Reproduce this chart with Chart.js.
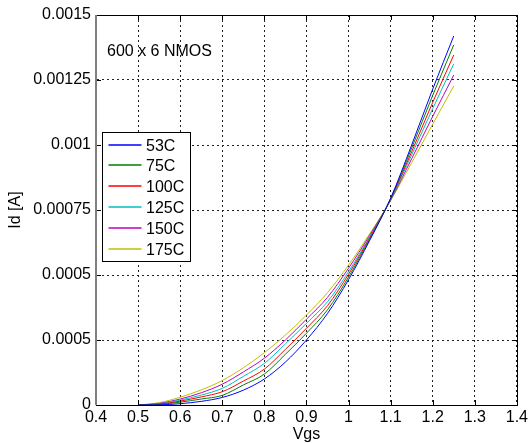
<!DOCTYPE html>
<html><head><meta charset="utf-8">
<script src="https://cdn.jsdelivr.net/npm/chart.js@4/dist/chart.umd.min.js"></script>
<style>html,body{margin:0;padding:0;background:#fff}#wrap{width:531px;height:443px}</style>
</head><body><div id="wrap"><canvas id="c" width="531" height="443"></canvas></div>
<script>
const vgs = [0.50,0.55,0.60,0.65,0.70,0.75,0.80,0.85,0.90,0.95,1.00,1.05,1.10,1.15,1.20,1.25];
const id53C  = [0,0.0000005,0.000005,0.000014,0.000029,0.000057,0.000100,0.000165,0.000250,0.000352,0.000482,0.000632,0.000795,0.001000,0.001215,0.001419];
const id75C  = [0,0.000002,0.000011,0.000023,0.000037,0.000077,0.000119,0.000195,0.000276,0.000366,0.000492,0.000637,0.000793,0.000988,0.001191,0.001385];
const id100C = [0,0.000003,0.000015,0.000031,0.000051,0.000092,0.000138,0.000214,0.000295,0.000382,0.000503,0.000642,0.000792,0.000974,0.001164,0.001346];
const id125C = [0,0.000004,0.000019,0.000038,0.000064,0.000110,0.000160,0.000235,0.000314,0.000397,0.000513,0.000646,0.000790,0.000962,0.001140,0.001312];
const id150C = [0,0.000006,0.000023,0.000047,0.000080,0.000127,0.000180,0.000250,0.000330,0.000414,0.000526,0.000652,0.000788,0.000947,0.001110,0.001269];
const id175C = [0,0.000009,0.000030,0.000058,0.000094,0.000143,0.000201,0.000269,0.000346,0.000432,0.000538,0.000658,0.000786,0.000932,0.001080,0.001227];
const seriesLabels = ['53C','75C','100C','125C','150C','175C'];
const seriesColors = ['#0000ff','#008000','#ff0000','#00bfbf','#bf00bf','#bfbf00'];
const seriesData = [id53C,id75C,id100C,id125C,id150C,id175C];
const xTickLabels = ['0.4','0.5','0.6','0.7','0.8','0.9','1','1.1','1.2','1.3','1.4'];
const yTickLabels = ['0','0.0005','0.0005','0.00075','0.001','0.00125','0.0015'];
const annotationText = '600 x 6 NMOS';
const FONT = '"Liberation Sans", Arial, sans-serif';

const datasets = seriesData.map((arr,i)=>({
  label: seriesLabels[i],
  data: vgs.map((x,j)=>({x:x,y:arr[j]})),
  borderColor: seriesColors[i],
  backgroundColor: seriesColors[i],
  borderWidth: 1,
  pointRadius: 0,
  fill: false,
  cubicInterpolationMode: 'monotone'
}));

const decorPlugin = {
  id:'decor',
  afterDraw(chart){
    const ctx = chart.ctx, a = chart.chartArea;
    const xs = chart.scales.x, ys = chart.scales.y;
    ctx.save();
    ctx.strokeStyle = '#000'; ctx.lineWidth = 1;
    ctx.beginPath();
    xs.ticks.forEach(t=>{
      const px = Math.round(xs.getPixelForValue(t.value))+0.5;
      ctx.moveTo(px,a.bottom); ctx.lineTo(px,a.bottom-5);
      ctx.moveTo(px,a.top); ctx.lineTo(px,a.top+5);
    });
    ys.ticks.forEach(t=>{
      const py = Math.round(ys.getPixelForValue(t.value))+0.5;
      ctx.moveTo(a.left,py); ctx.lineTo(a.left+5,py);
      ctx.moveTo(a.right,py); ctx.lineTo(a.right-5,py);
    });
    ctx.stroke();
    ctx.strokeStyle = '#000';
    ctx.strokeRect(Math.round(a.left)+0.5, Math.round(a.top)+0.5, Math.round(a.right-a.left), Math.round(a.bottom-a.top));
    ctx.strokeStyle = '#808080'; ctx.lineWidth = 2;
    ctx.beginPath(); ctx.moveTo(a.left, a.top); ctx.lineTo(a.left, a.bottom); ctx.stroke();
    ctx.fillStyle = '#000';
    ctx.font = '16px ' + FONT;
    ctx.textBaseline = 'alphabetic'; ctx.textAlign = 'left';
    ctx.fillText(annotationText, a.left + 11, a.top + 41);
    const bx = a.left + 6.5, by = a.top + 117.5, bw = 88, bh = 129;
    ctx.fillStyle = '#fff';
    ctx.fillRect(bx, by, bw, bh);
    ctx.lineWidth = 1; ctx.strokeStyle = '#000';
    ctx.strokeRect(bx, by, bw, bh);
    seriesLabels.forEach((lab,i)=>{
      const ly = Math.round(a.top + 129.5 + i*20.95);
      ctx.strokeStyle = seriesColors[i]; ctx.lineWidth = 1.3;
      ctx.beginPath(); ctx.moveTo(bx+6, ly); ctx.lineTo(bx+39, ly); ctx.stroke();
      ctx.fillStyle = '#000';
      ctx.fillText(lab, bx+43.5, ly+6);
    });
    ctx.restore();
  }
};

new Chart(document.getElementById('c'), {
  type:'line',
  data:{datasets},
  options:{
    responsive:false, animation:false, devicePixelRatio:1,
    layout:{padding:{top:15,right:12,left:0,bottom:0}},
    plugins:{legend:{display:false}, tooltip:{enabled:false}},
    scales:{
      x:{type:'linear', min:0.4, max:1.4,
        afterFit:s=>{s.height=38;},
        ticks:{stepSize:0.1, autoSkip:false, maxRotation:0, padding:3, color:'#000',
          font:{family:FONT,size:16}, callback:(v,i)=>xTickLabels[i]},
        grid:{color:'#222', lineWidth:1, drawTicks:false},
        border:{display:true, color:'#000', dash:[2,3]},
        title:{display:true, text:'Vgs', color:'#000', font:{family:FONT,size:16,lineHeight:1}, padding:0}
      },
      y:{type:'linear', min:0, max:0.0015,
        afterFit:s=>{s.width=96;},
        ticks:{stepSize:0.00025, autoSkip:false, padding:5, color:'#000',
          font:{family:FONT,size:16}, callback:(v,i)=>yTickLabels[i]},
        grid:{color:'#222', lineWidth:1, drawTicks:false},
        border:{display:true, color:'#000', dash:[2,3]},
        title:{display:true, text:'Id [A]', color:'#000', font:{family:FONT,size:16,lineHeight:1}, padding:{top:8}}
      }
    }
  },
  plugins:[decorPlugin]
});
</script></body></html>
